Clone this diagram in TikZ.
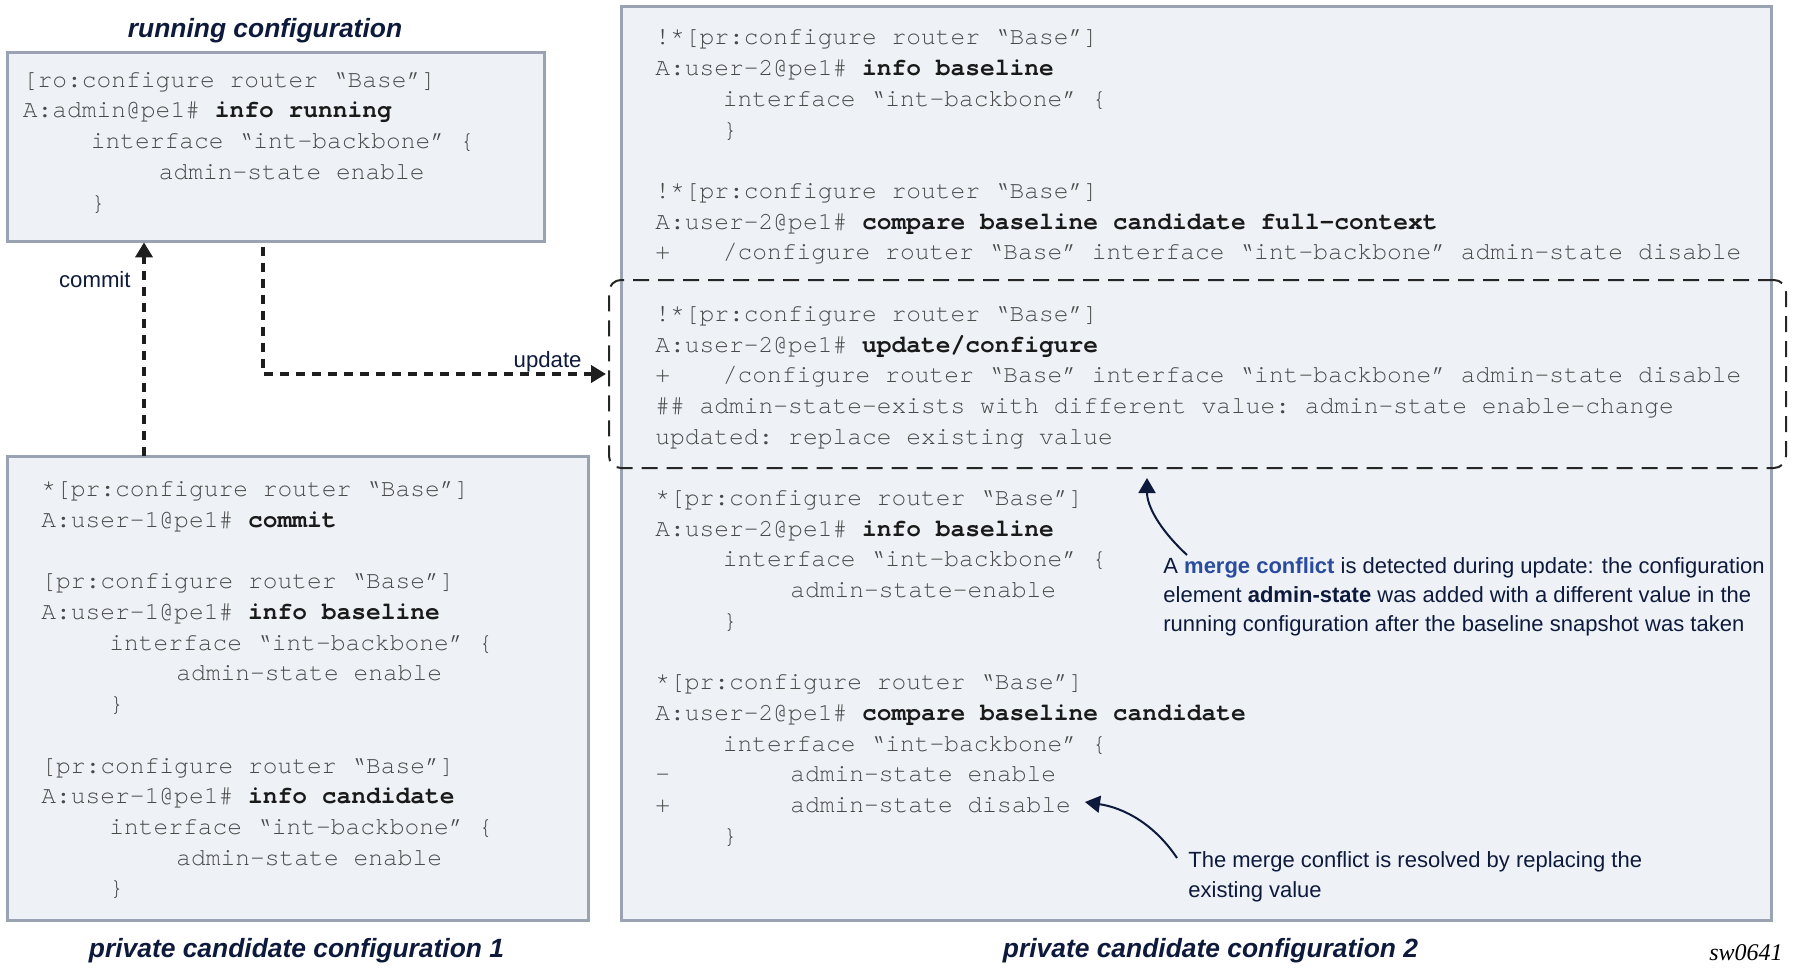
\documentclass[tikz,border=0pt]{standalone}
\usepackage{fontspec}
\setmainfont{Liberation Sans}
\IfFontExistsTF{TeX Gyre Cursor}{\newfontfamily\codefont{TeX Gyre Cursor}[Kerning=Off,Ligatures=NoCommon,PunctuationSpace=0]}{\newfontfamily\codefont{Liberation Mono}}
\newfontfamily\serifit{Liberation Serif}
\usetikzlibrary{arrows.meta}
\definecolor{boxfill}{HTML}{EEF2F7}
\definecolor{boxline}{HTML}{9AA3B2}
\definecolor{navy}{HTML}{0E1A3C}
\definecolor{mcblue}{HTML}{2B4C9E}
\definecolor{codegrey}{HTML}{4A4A4A}
\definecolor{codeblack}{HTML}{1A1A1A}
\definecolor{flowc}{HTML}{1E1E1E}
\newcommand\cmdb[1]{\textbf{\color{codeblack}#1}}
\tikzset{
  cfgbox/.style={draw=boxline, fill=boxfill, line width=1.5pt, inner sep=0pt, outer sep=0pt},
  updbox/.style={draw=black!85, line width=1pt, dash pattern=on 8pt off 4.5pt, rounded corners=6pt, inner sep=0pt, outer sep=0pt},
  code/.style={anchor=base west, inner sep=0pt, text=codegrey, font=\codefont\fontsize{12.3}{15}\selectfont\frenchspacing},
  titletext/.style={anchor=base, inner sep=0pt, text=navy, font=\fontsize{13.2}{15}\selectfont\bfseries\itshape},
  lbl/.style={anchor=base east, inner sep=0pt, text=navy, font=\fontsize{11.1}{13}\selectfont},
  note/.style={anchor=base west, inner sep=0pt, text=navy, font=\fontsize{11}{13}\selectfont},
  flow/.style={draw=flowc, line width=2pt, dash pattern=on 4.7pt off 3.3pt, -{Triangle[length=7.5pt,width=8.5pt]}},
  pointer/.style={draw=navy, line width=1pt, -{Triangle[length=7.5pt,width=8.5pt]}},
}
\begin{document}
\begin{tikzpicture}[x=0.5pt,y=-0.5pt]
\useasboundingbox (0,0) rectangle (1793,974);

% boxes
\node[cfgbox, minimum width=268.5pt, minimum height=94pt] (run) at (275.5,147) {};
\node[cfgbox, minimum width=290.5pt, minimum height=232pt] (pc1) at (297.5,688) {};
\node[cfgbox, minimum width=575pt, minimum height=456.5pt] (pc2) at (1196,463.5) {};
\node[updbox, minimum width=588.5pt, minimum height=94pt] (upd) at (1197.5,374) {};

% titles
\node[titletext] (trun) at (265,37.5) {running configuration};
\node[titletext] (tpc1) at (296.5,957) {private candidate configuration 1};
\node[titletext] (tpc2) at (1210.5,957) {private candidate configuration 2};
\node[anchor=base east, inner sep=0pt, font=\serifit\itshape\fontsize{12}{14}\selectfont] (sw) at (1783,960) {sw0641};

% running configuration text
\node[code] (r0) at (22.5,{87.3+30.7*0}) {[ro:configure router “Base”]};
\node[code] (r1) at (22.5,{87.3+30.7*1}) {A:admin@pe1\# \cmdb{info running}};
\node[code] (r2) at (90.5,{87.3+30.7*2}) {interface “int-backbone” \{};
\node[code] (r3) at (158.5,{87.3+30.7*3}) {admin-state enable};
\node[code] (r4) at (90.5,{87.3+30.7*4}) {\}};

% private candidate 1 text
\node[code] (p1) at (41,{496.7+30.7*0}) {*[pr:configure router “Base”]};
\node[code] (p2) at (41,{496.7+30.7*1}) {A:user-1@pe1\# \cmdb{commit}};
\node[code] (p4) at (41,{496.7+30.7*3}) {[pr:configure router “Base”]};
\node[code] (p5) at (41,{496.7+30.7*4}) {A:user-1@pe1\# \cmdb{info baseline}};
\node[code] (p6) at (109,{496.7+30.7*5}) {interface “int-backbone” \{};
\node[code] (p7) at (176,{496.7+30.7*6}) {admin-state enable};
\node[code] (p8) at (109,{496.7+30.7*7}) {\}};
\node[code] (p10) at (41,{496.7+30.7*9}) {[pr:configure router “Base”]};
\node[code] (p11) at (41,{496.7+30.7*10}) {A:user-1@pe1\# \cmdb{info candidate}};
\node[code] (p12) at (109,{496.7+30.7*11}) {interface “int-backbone” \{};
\node[code] (p13) at (176,{496.7+30.7*12}) {admin-state enable};
\node[code] (p14) at (109,{496.7+30.7*13}) {\}};

% private candidate 2 text
\node[code] (q0) at (655,{45+30.7*0}) {!*[pr:configure router “Base”]};
\node[code] (q1) at (655,{45+30.7*1}) {A:user-2@pe1\# \cmdb{info baseline}};
\node[code] (q2) at (722.5,{45+30.7*2}) {interface “int-backbone” \{};
\node[code] (q3) at (722.5,{45+30.7*3}) {\}};
\node[code] (q5) at (655,{45+30.7*5}) {!*[pr:configure router “Base”]};
\node[code] (q6) at (655,{45+30.7*6}) {A:user-2@pe1\# \cmdb{compare baseline candidate full-context}};
\node[code] (q7) at (655,{45+30.7*7}) {\makebox[33.75pt][l]{+}/configure router “Base” interface “int-backbone” admin-state disable};
\node[code] (q9) at (655,{45+30.7*9}) {!*[pr:configure router “Base”]};
\node[code] (q10) at (655,{45+30.7*10}) {A:user-2@pe1\# \cmdb{update/configure}};
\node[code] (q11) at (655,{45+30.7*11}) {\makebox[33.75pt][l]{+}/configure router “Base” interface “int-backbone” admin-state disable};
\node[code] (q12) at (655,{45+30.7*12}) {\#\# admin-state-exists with different value: admin-state enable-change};
\node[code] (q13) at (655,{45+30.7*13}) {updated: replace existing value};
\node[code] (q15) at (655,{45+30.7*15}) {*[pr:configure router “Base”]};
\node[code] (q16) at (655,{45+30.7*16}) {A:user-2@pe1\# \cmdb{info baseline}};
\node[code] (q17) at (722.5,{45+30.7*17}) {interface “int-backbone” \{};
\node[code] (q18) at (790,{45+30.7*18}) {admin-state-enable};
\node[code] (q19) at (722.5,{45+30.7*19}) {\}};
\node[code] (q21) at (655,{45+30.7*21}) {*[pr:configure router “Base”]};
\node[code] (q22) at (655,{45+30.7*22}) {A:user-2@pe1\# \cmdb{compare baseline candidate}};
\node[code] (q23) at (722.5,{45+30.7*23}) {interface “int-backbone” \{};
\node[code] (q24) at (655,{45+30.7*24}) {\makebox[67.5pt][l]{-}admin-state enable};
\node[code] (q25) at (655,{45+30.7*25}) {\makebox[67.5pt][l]{+}admin-state disable};
\node[code] (q26) at (722.5,{45+30.7*26}) {\}};

% notes
\node[note] (n1) at (1163,573) {A \textcolor{mcblue}{\textbf{merge conflict}} is detected during update: the configuration};
\node[note] (n2) at (1163,602) {element \textbf{admin-state} was added with a different value in the};
\node[note] (n3) at (1163,631) {running configuration after the baseline snapshot was taken};
\node[note] (m1) at (1188,867) {The merge conflict is resolved by replacing the};
\node[note] (m2) at (1188,897) {existing value};

% flow labels
\node[lbl] (lcommit) at (131,287) {commit};
\node[lbl] (lupdate) at (582,367) {update};

% flow connectors
\coordinate (cx) at (144,0);
\coordinate (ux) at (263,0);
\draw[flow, shorten >=0.7pt] (pc1.north -| cx) -- (run.south -| cx);
\draw[flow, shorten <=3pt, shorten >=1.5pt] (run.south -| ux) |- (upd.west);

% pointers
\coordinate (a1s) at (1187,555);
\coordinate (a1e) at (1147,478);
\draw[pointer] (a1s) .. controls (1158,528) and (1147,505) .. (a1e);
\coordinate (a2s) at (1177,858);
\coordinate (a2e) at (1085,802);
\draw[pointer] (a2s) .. controls (1155,825) and (1125,808) .. (a2e);
\end{tikzpicture}
\end{document}
